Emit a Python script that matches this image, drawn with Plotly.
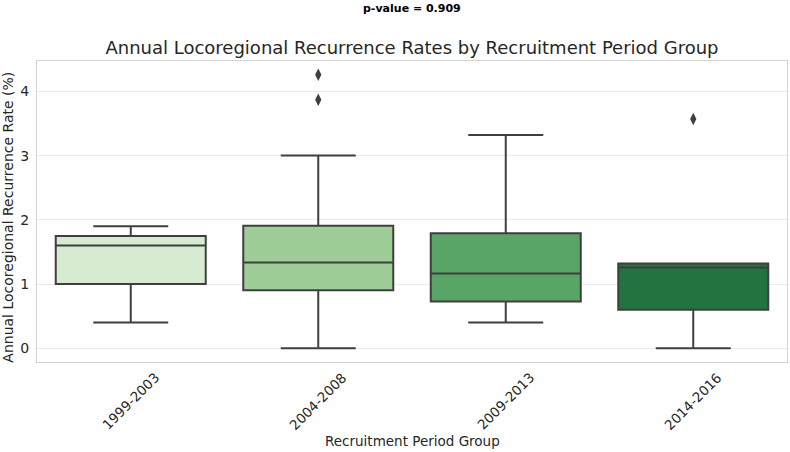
import plotly.graph_objects as go

# ---- data ----
groups = ["1999-2003", "2004-2008", "2009-2013", "2014-2016"]
q1 = [1.0, 0.905, 0.73, 0.6]
median = [1.6, 1.335, 1.165, 1.26]
q3 = [1.75, 1.91, 1.79, 1.32]
lower_whisker = [0.4, 0.0, 0.4, 0.0]
upper_whisker = [1.9, 3.0, 3.32, 1.32]
outlier_groups = ["2004-2008", "2004-2008", "2014-2016"]
outlier_values = [4.26, 3.87, 3.57]
y_ticks = [0, 1, 2, 3, 4]
p_value_text = "p-value = 0.909"

colors = ["#d7ebd2", "#9fcd98", "#59a467", "#22733f"]
line_col = "#3f3f3f"
text_col = "#262626"
font_family = "DejaVu Sans"

fig = go.Figure()
for i, g in enumerate(groups):
    fig.add_trace(go.Box(
        x=[g], q1=[q1[i]], median=[median[i]], q3=[q3[i]],
        lowerfence=[lower_whisker[i]], upperfence=[upper_whisker[i]],
        fillcolor=colors[i], line=dict(color=line_col, width=2),
        width=0.8, whiskerwidth=0.5, boxpoints=False, showlegend=False,
        hoverinfo="skip",
    ))

fig.add_trace(go.Scatter(
    x=outlier_groups, y=outlier_values, mode="markers",
    marker=dict(symbol="diamond-tall", size=9, color=line_col),
    showlegend=False, hoverinfo="skip",
))

# rotated category labels centred on ticks
for g in groups:
    fig.add_annotation(x=g, y=-0.13, xref="x", yref="paper", text=g,
                       textangle=-45, showarrow=False, xanchor="center", yanchor="middle",
                       font=dict(family=font_family, size=13.5, color=text_col))

fig.add_annotation(x=0.5, y=-0.262, xref="paper", yref="paper", text="Recruitment Period Group",
                   showarrow=False, xanchor="center", yanchor="middle",
                   font=dict(family=font_family, size=13.5, color=text_col))
fig.add_annotation(x=-0.039, y=0.482, xref="paper", yref="paper",
                   text="Annual Locoregional Recurrence Rate (%)", textangle=-90,
                   showarrow=False, xanchor="center", yanchor="middle",
                   font=dict(family=font_family, size=14, color=text_col))
fig.add_annotation(x=0.5, y=1.176, xref="paper", yref="paper", text="<b>" + p_value_text + "</b>",
                   showarrow=False, xanchor="center", yanchor="middle",
                   font=dict(family=font_family, size=11, color="black"))

fig.update_layout(
    width=790, height=452,
    margin=dict(l=37, r=3, t=61, b=90),
    paper_bgcolor="white", plot_bgcolor="white",
    title=dict(text="Annual Locoregional Recurrence Rates by Recruitment Period Group",
               x=0.5, xref="paper", xanchor="center", y=1 - 48 / 452, yanchor="middle",
               font=dict(family=font_family, size=18, color=text_col)),
    font=dict(family=font_family, size=13, color=text_col),
    xaxis=dict(type="category", categoryorder="array", categoryarray=groups,
               range=[-0.5, 3.5], showticklabels=False, showgrid=False, zeroline=False,
               showline=True, linecolor="#d3d3d3", linewidth=1.2, mirror=True, ticks=""),
    yaxis=dict(range=[-0.213, 4.473], tickvals=y_ticks, showgrid=True, gridcolor="#ebebeb",
               gridwidth=1, zeroline=False, showline=True, linecolor="#d3d3d3", linewidth=1.2,
               mirror=True, ticks="outside", ticklen=4, tickcolor="rgba(0,0,0,0)",
               tickfont=dict(family=font_family, size=14, color=text_col)),
)

fig.write_html("out.html")
